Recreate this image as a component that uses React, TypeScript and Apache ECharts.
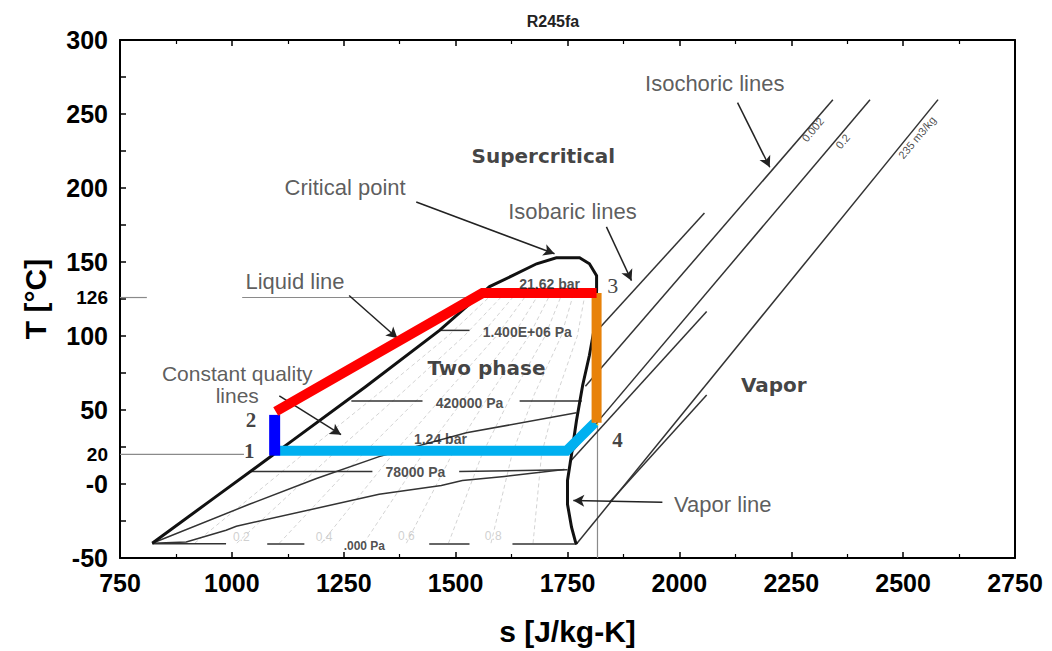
import React, { useEffect, useRef } from "react";
import * as echarts from "echarts";

type P = [number, number];

// ---- axes ----
const xMin = 750;
const xMax = 2750;
const xStep = 250;
const yMin = -50;
const yMax = 300;
const yStep = 50;
const yLabelValues = [-50, 0, 20, 50, 100, 126, 150, 200, 250, 300];
const yTickValues = [-50, -25, 0, 25, 50, 75, 100, 125, 150, 175, 200, 225, 250, 275, 300];

// ---- saturation dome (liquid line + vapor line) ----
const saturationDome: P[] = [
  [822, -40], [956, -10.4], [1090, 19.2], [1135, 29.3], [1298, 65.5], [1464, 103.8],
  [1520, 118.6], [1576, 133.4], [1627, 140.8], [1681, 148.8], [1725, 152.9], [1777, 152.9],
  [1799, 148.8], [1815, 140.8], [1815, 130.7], [1810, 105.2], [1799, 87], [1784, 66.9],
  [1770, 42.7], [1759, 19.9], [1750, 2.4], [1750, -13.7], [1759, -29.2], [1768, -39.3], [1771, -40.6],
];

// ---- isobars inside the dome (segments broken by their labels) ----
const isobar1400kPa: P[][] = [[[1464, 103.8], [1531, 103.8]]];
const isobar420kPa: P[][] = [[[1267, 56.1], [1426, 56.1]], [[1643, 56.1], [1782, 56.1]]];
const isobar78kPa: P[][] = [[[1041, 8.4], [1314, 8.4]], [[1508, 8.4], [1750, 9.7]]];
const isobarLow: P[][] = [
  [[822, -40.3], [987, -40.3]], [[1079, -40.6], [1162, -40.6]],
  [[1441, -40.6], [1531, -40.6]], [[1627, -40.6], [1770, -40.6]],
];
const fanLine2: P[] = [[822, -40], [1039, -13.7], [1189, 3.7], [1329, 18.5], [1524, 34.6], [1770, 48.1]];
const fanLine3: P[] = [[822, -40], [898, -39.2], [987, -31.2], [1010, -28.5], [1329, -7], [1468, -1], [1515, 2.4], [1609, 5.1], [1743, 9.8]];

// ---- constant quality lines (x = 0.1 ... 0.9) ----
const quality01: P[] = [[917, -40], [1159, 20], [1323, 60], [1483, 100], [1581, 128]];
const quality02: P[] = [[1011, -40], [1225, 20], [1374, 60], [1519, 100], [1607, 128]];
const quality03: P[] = [[1106, -40], [1292, 20], [1424, 60], [1555, 100], [1633, 128]];
const quality04: P[] = [[1200, -40], [1359, 20], [1474, 60], [1591, 100], [1659, 128]];
const quality05: P[] = [[1295, -40], [1426, 20], [1525, 60], [1628, 100], [1685, 128]];
const quality06: P[] = [[1390, -40], [1492, 20], [1575, 60], [1664, 100], [1711, 128]];
const quality07: P[] = [[1484, -40], [1559, 20], [1625, 60], [1700, 100], [1737, 128]];
const quality08: P[] = [[1579, -40], [1626, 20], [1675, 60], [1736, 100], [1763, 128]];
const quality09: P[] = [[1673, -40], [1692, 20], [1726, 60], [1772, 100], [1789, 128]];

// ---- superheated region: isobaric and isochoric lines ----
const isobarSuper1: P[] = [[1815, 103.2], [2056, 183.1]];
const isobarSuper2: P[] = [[1754, 14.5], [2061, 116.6]];
const isochore1: P[] = [[1790, 66], [2343, 259.7]];
const isochore2: P[] = [[1759, 21.2], [2426, 259.7]];
const isochore3: P[] = [[1770, -40.6], [2578, 259.7]];
const isochore3b: P[] = [[1844, -12.4], [2061, 60.2]];

// ---- reference lines ----
const ref126a: P[] = [[750, 126], [810, 126]];
const ref126b: P[] = [[1023, 126], [1815, 126]];
const ref20: P[] = [[750, 20], [1027, 20]];
const refVertical: P[] = [[1817, 126], [1817, -50]];

// ---- ORC cycle ----
const cycleRed: P[] = [[1098, 49], [1560, 129], [1815, 129]];
const cycleOrange: P[] = [[1815, 129], [1815, 41.4]];
const cycleYellow: P[] = [[1752, 20.5], [1818, 40.5]];
const cycleLightBlue: P[] = [[1095.6, 22.5], [1748, 22.5], [1811, 41.4]];
const cycleBlue: P[] = [[1095.6, 46.7], [1095.6, 19.2]];

// ---- arrows (start -> end) ----
const arrows: { from: P; to: P; curve: number }[] = [
  { from: [1412, 190.5], to: [1721, 155.6], curve: 0.08 },
  { from: [1837, 173.7], to: [1893, 137.4], curve: 0 },
  { from: [2130, 257.7], to: [2202, 214], curve: 0 },
  { from: [1262, 127.4], to: [1370, 98.5], curve: 0 },
  { from: [1106, 59.5], to: [1244, 33.3], curve: 0 },
  { from: [1962, -12.4], to: [1763, -11.1], curve: 0 },
];

// ---- texts: position in data units, text, style ----
type Txt = { at: P; text: string; kind: string; rotate?: number };
const texts: Txt[] = [
  { at: [1253, 200.6], text: "Critical point", kind: "note" },
  { at: [1761, 183.8], text: "Isobaric lines", kind: "note" },
  { at: [2079, 270.4], text: "Isochoric lines", kind: "note" },
  { at: [1141, 136.8], text: "Liquid line", kind: "note" },
  { at: [1012, 67], text: "Constant quality\nlines", kind: "note2" },
  { at: [2097, -13.7], text: "Vapor line", kind: "note" },
  { at: [1696, 221.4], text: "Supercritical", kind: "region" },
  { at: [1569, 78.3], text: "Two phase", kind: "region" },
  { at: [2211, 66.9], text: "Vapor", kind: "region" },
  { at: [1710, 135.4], text: "21.62 bar", kind: "iso" },
  { at: [1660, 102.5], text: "1.400E+06 Pa", kind: "iso" },
  { at: [1531, 54.8], text: "420000 Pa", kind: "iso" },
  { at: [1466, 30.5], text: "1.24 bar", kind: "iso" },
  { at: [1410, 7.8], text: "78000 Pa", kind: "iso" },
  { at: [1296, -41.9], text: ".000 Pa", kind: "isoSmall" },
  { at: [1021, -35.9], text: "0.2", kind: "quality" },
  { at: [1206, -35.9], text: "0.4", kind: "quality" },
  { at: [1390, -35.2], text: "0.6", kind: "quality" },
  { at: [1584, -35.2], text: "0.8", kind: "quality" },
  { at: [1039, 22.6], text: "1", kind: "point" },
  { at: [1043, 43.4], text: "2", kind: "point" },
  { at: [1851, 134.1], text: "3", kind: "point3" },
  { at: [1862, 29.9], text: "4", kind: "point" },
  { at: [2298, 239.5], text: "0.002", kind: "vol", rotate: 50 },
  { at: [2365, 231.5], text: "0.2", kind: "vol", rotate: 50 },
  { at: [2531, 234.2], text: "235 m3/kg", kind: "vol", rotate: 50 },
];

const textStyles: Record<string, any> = {
  note: { fontSize: 22, fontFamily: "Liberation Sans", color: "#333" },
  note2: { fontSize: 21, lineHeight: 22, align: "center", fontFamily: "Liberation Sans", color: "#333" },
  region: { fontSize: 20, fontWeight: "bold", fontFamily: "DejaVu Sans", color: "#111" },
  iso: { fontSize: 14, fontWeight: "bold", fontFamily: "Liberation Sans", color: "#222" },
  isoSmall: { fontSize: 12, fontWeight: "bold", fontFamily: "Liberation Sans", color: "#222" },
  quality: { fontSize: 12, fontFamily: "Liberation Sans", color: "#c4c4c4" },
  point: { fontSize: 21, fontWeight: "bold", fontFamily: "Liberation Serif", color: "#111" },
  point3: { fontSize: 22, fontFamily: "Liberation Serif", color: "#111" },
  vol: { fontSize: 11, fontFamily: "Liberation Sans", color: "#222" },
};

function lineSeries(data: P[], color: string, width: number, z: number, dash: any = "solid") {
  return {
    type: "line",
    data,
    symbol: "none",
    showSymbol: false,
    silent: true,
    z,
    lineStyle: { color, width, type: dash, cap: "butt", join: "miter" },
  };
}

export default function App() {
  const ref = useRef<HTMLDivElement>(null);

  useEffect(() => {
    document.body.style.margin = "0";
    if (!ref.current) return;
    const chart = echarts.init(ref.current, undefined, { renderer: "svg" });

    const series: any[] = [];
    [quality01, quality02, quality03, quality04, quality05, quality06, quality07, quality08, quality09].forEach((q) =>
      series.push(lineSeries(q, "#d4d4d4", 1, 1, [4, 3]))
    );
    [ref126a, ref126b, ref20, refVertical].forEach((r) => series.push(lineSeries(r, "#8a8a8a", 1.2, 2)));
    [...isobar1400kPa, ...isobar420kPa, ...isobar78kPa, ...isobarLow].forEach((s) =>
      series.push(lineSeries(s, "#333", 1.5, 3))
    );
    series.push(lineSeries(fanLine2, "#333", 1.5, 3));
    series.push(lineSeries(fanLine3, "#333", 1.5, 3));
    [isobarSuper1, isobarSuper2, isochore1, isochore2, isochore3, isochore3b].forEach((s) =>
      series.push(lineSeries(s, "#333", 1.5, 3))
    );
    const dome: any = lineSeries(saturationDome, "#111", 3, 4);
    dome.markLine = {
      silent: true,
      symbol: ["none", "arrow"],
      symbolSize: [9, 11],
      label: { show: false },
      lineStyle: { color: "#222", width: 1.5, type: "solid" },
      data: arrows.map((a) => [
        { coord: a.from, lineStyle: { curveness: a.curve, color: "#222", width: 1.5, type: "solid" } },
        { coord: a.to },
      ]),
    };
    series.push(dome);
    series.push(lineSeries(cycleYellow, "#ffd400", 2, 5));
    series.push(lineSeries(cycleLightBlue, "#00b0f0", 10, 6));
    series.push(lineSeries(cycleBlue, "#0000ff", 11, 7));
    series.push(lineSeries(cycleRed, "#ff0000", 10, 7));
    series.push(lineSeries(cycleOrange, "#e8820a", 10, 6));
    series.push({
      type: "scatter",
      symbolSize: 0,
      silent: true,
      z: 10,
      data: texts.map((t) => ({
        value: t.at,
        label: {
          show: true,
          position: "inside",
          formatter: t.text,
          rotate: t.rotate || 0,
          ...(textStyles[t.kind] || {}),
        },
      })),
    });

    const axisLine = { show: true, onZero: false, lineStyle: { color: "#000", width: 2 } };
    const tick = { show: true, inside: true, length: 6, lineStyle: { color: "#000", width: 1.5 } };
    const minor = { show: true, splitNumber: 2, length: 4, lineStyle: { color: "#000", width: 1.2 } };

    chart.setOption({
      animation: false,
      backgroundColor: "#fff",
      title: {
        text: "R245fa",
        left: 548,
        top: 8,
        textAlign: "center",
        textStyle: { fontSize: 16, fontWeight: "bold", fontFamily: "Liberation Sans", color: "#222" },
      },
      grid: { left: 120, right: 37, top: 40, bottom: 90, containLabel: false },
      xAxis: [
        {
          type: "value",
          position: "bottom",
          min: xMin,
          max: xMax,
          interval: xStep,
          axisLine,
          axisTick: tick,
          minorTick: minor,
          splitLine: { show: false },
          axisLabel: {
            color: "#000",
            fontSize: 25,
            fontWeight: "bold",
            fontFamily: "Liberation Sans",
            margin: 12,
            formatter: (v: number) => String(v),
          },
          name: "s [J/kg-K]",
          nameLocation: "middle",
          nameGap: 58,
          nameTextStyle: { fontSize: 30, fontWeight: "bold", fontFamily: "Liberation Sans", color: "#000" },
        },
        {
          type: "value",
          position: "top",
          min: xMin,
          max: xMax,
          interval: xStep,
          axisLine,
          axisTick: tick,
          minorTick: minor,
          splitLine: { show: false },
          axisLabel: { show: false },
        },
      ],
      yAxis: [
        {
          type: "value",
          position: "left",
          min: yMin,
          max: yMax,
          interval: yStep,
          axisLine,
          axisTick: { ...tick, customValues: yTickValues },
          splitLine: { show: false },
          axisLabel: {
            customValues: yLabelValues,
            color: "#000",
            fontSize: 25,
            fontWeight: "bold",
            fontFamily: "Liberation Sans",
            margin: 12,
            formatter: (v: number) => (v === 126 || v === 20 ? `{s|${v}}` : v === 0 ? "-0" : `${v}`),
            rich: { s: { fontSize: 19, fontWeight: "bold", fontFamily: "Liberation Sans", color: "#000" } },
          },
          name: "T [°C]",
          nameLocation: "middle",
          nameGap: 70,
          nameRotate: 90,
          nameTextStyle: { fontSize: 30, fontWeight: "bold", fontFamily: "Liberation Sans", color: "#000" },
        },
        {
          type: "value",
          position: "right",
          min: yMin,
          max: yMax,
          interval: yStep,
          axisLine,
          axisTick: { show: false },
          splitLine: { show: false },
          axisLabel: { show: false },
        },
      ],
      series,
    });

    return () => chart.dispose();
  }, []);

  return <div ref={ref} style={{ position: "fixed", left: 0, top: 0, width: 1052, height: 651 }} />;
}
